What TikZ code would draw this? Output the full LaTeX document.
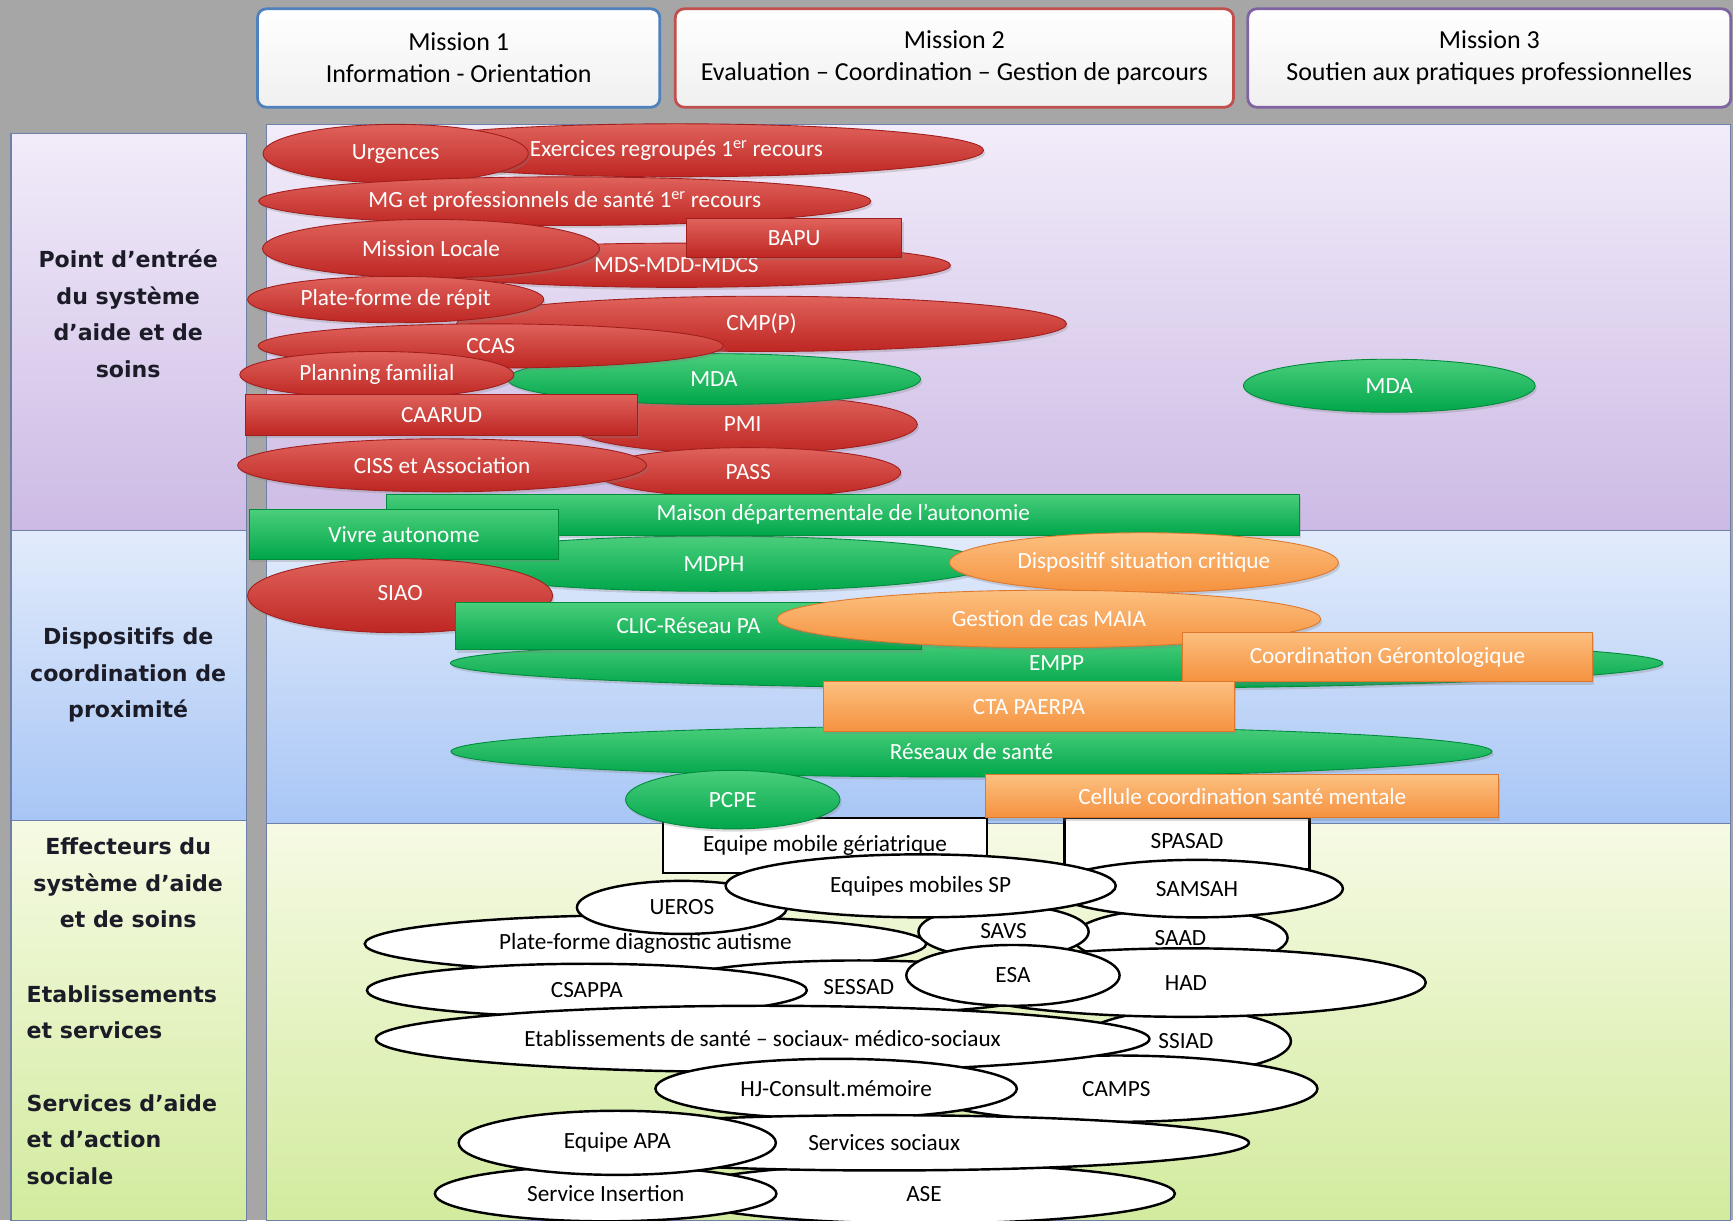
\documentclass[tikz,border=0pt]{standalone}
\usepackage{fontspec}
\setmainfont{Carlito}
\newfontfamily\headfont{DejaVu Sans}
\usetikzlibrary{shapes.geometric,shadows}
\definecolor{bggray}{RGB}{166,166,166}
\definecolor{redT}{RGB}{224,98,92}
\definecolor{redB}{RGB}{190,38,34}
\definecolor{redD}{RGB}{160,30,28}
\definecolor{grnT}{RGB}{74,206,124}
\definecolor{grnB}{RGB}{0,166,74}
\definecolor{grnD}{RGB}{0,138,60}
\definecolor{orgT}{RGB}{252,192,128}
\definecolor{orgB}{RGB}{245,145,62}
\definecolor{orgD}{RGB}{222,120,44}
\definecolor{lavT}{RGB}{242,236,250}
\definecolor{lavB}{RGB}{204,186,228}
\definecolor{bluT}{RGB}{226,235,251}
\definecolor{bluB}{RGB}{168,198,245}
\definecolor{grsT}{RGB}{246,250,228}
\definecolor{grsB}{RGB}{210,235,158}
\definecolor{frame}{RGB}{110,128,168}
\definecolor{mblue}{RGB}{79,129,189}
\definecolor{mred}{RGB}{192,80,77}
\definecolor{mpurple}{RGB}{128,100,162}
\definecolor{headtxt}{RGB}{28,28,40}
\begin{document}
\begin{tikzpicture}[x=1pt,y=-1pt,
  sz/.style 2 args={minimum width=#1pt, minimum height=#2pt},
  shp/.style={inner sep=0pt, align=center, font=\fontsize{21}{24}\selectfont},
  shd/.style={drop shadow={shadow xshift=1.5pt,shadow yshift=-2.5pt,opacity=0.28}},
  redE/.style={shp, shd, ellipse, draw=redD, line width=0.8pt, top color=redT, bottom color=redB, text=white},
  redR/.style={shp, shd, rectangle, draw=redD, line width=0.8pt, top color=redT, bottom color=redB, text=white},
  grnE/.style={shp, shd, ellipse, draw=grnD, line width=0.8pt, top color=grnT, bottom color=grnB, text=white},
  grnR/.style={shp, shd, rectangle, draw=grnD, line width=0.8pt, top color=grnT, bottom color=grnB, text=white},
  orgE/.style={shp, shd, ellipse, draw=orgD, line width=0.8pt, top color=orgT, bottom color=orgB, text=white},
  orgR/.style={shp, shd, rectangle, draw=orgD, line width=0.8pt, top color=orgT, bottom color=orgB, text=white},
  whtE/.style={shp, ellipse, draw=black, line width=2.2pt, fill=white, text=black},
  whtR/.style={shp, rectangle, draw=black, line width=2.2pt, fill=white, text=black},
  mission/.style={rounded corners=8pt, line width=2.5pt, top color=white, bottom color=gray!12, align=center, inner sep=0pt, font=\fontsize{23.5}{29}\selectfont, text=black},
  lefthead/.style={align=center, inner sep=0pt, text=headtxt, font=\headfont\bfseries\fontsize{20}{33}\selectfont},
  leftsub/.style={lefthead, align=left, anchor=west}
]
\useasboundingbox (0,0) rectangle (1568,1104);
\fill[bggray] (0,0) rectangle (1568,1104);

% headers
\node[mission, draw=mblue, sz={364}{89}] (m1) at (415,52.5) {Mission 1\\Information - Orientation};
\node[mission, draw=mred, sz={505}{89}] (m2) at (863.5,52.5) {Mission 2\\Evaluation -- Coordination -- Gestion de parcours};
\node[mission, draw=mpurple, sz={437}{89}] (m3) at (1347.5,52.5) {Mission 3\\Soutien aux pratiques professionnelles};

% left column
\draw[frame, line width=1pt, top color=lavT, bottom color=lavB] (10,121) rectangle (223,480);
\draw[frame, line width=1pt, top color=bluT, bottom color=bluB] (10,480) rectangle (223,742);
\draw[frame, line width=1pt, top color=grsT, bottom color=grsB] (10,742) rectangle (223,1104);
% main area
\draw[frame, line width=1pt, top color=lavT, bottom color=lavB] (241,113) rectangle (1566,480);
\draw[frame, line width=1pt, top color=bluT, bottom color=bluB] (241,480) rectangle (1566,745);
\draw[frame, line width=1pt, top color=grsT, bottom color=grsB] (241,745) rectangle (1566,1104);

\node[lefthead] (l1) at (116,284) {Point d’entrée\\du système\\d’aide et de\\soins};
\node[lefthead] (l2) at (116,611) {Dispositifs de\\coordination de\\proximité};
\node[lefthead] (l3) at (116,799) {Effecteurs du\\système d’aide\\et de soins};
\node[leftsub] (l4) at (24,916) {Etablissements\\et services};
\node[leftsub] (l5) at (24,1031) {Services d’aide\\et d’action\\sociale};

% row 3 : effecteurs
\node[whtR, sz={293}{50}] (emg) at (746.5,765) {Equipe mobile gériatrique};
\node[whtR, sz={222}{46}] (spasad) at (1074,763) {\raisebox{4pt}{SPASAD}};
\node[whtE, sz={194}{53}] (saad) at (1068,848.5) {SAAD};
\node[whtE, sz={264}{52}] (samsah) at (1083,804) {SAMSAH};
\node[whtE, sz={508}{52}] (pfd) at (584,854) {Plate-forme diagnostic autisme};
\node[whtE, sz={190}{48}] (ueros) at (617,821) {UEROS};
\node[whtE, sz={154}{48}] (savs) at (908,843) {\raisebox{2pt}{SAVS}};
\node[whtE, sz={353}{57}] (sp) at (833,801.5) {Equipes mobiles SP};
\node[whtE, sz={360}{48}] (sessad) at (777,893) {SESSAD};
\node[whtE, sz={398}{48}] (csappa) at (531,896) {\raisebox{-5pt}{CSAPPA}};
\node[whtE, sz={190}{56}] (ssiad) at (1073,942) {SSIAD};
\node[whtE, sz={434}{62}] (had) at (1073,889) {HAD};
\node[whtE, sz={193}{55}] (esa) at (916.5,882.5) {ESA};
\node[whtE, sz={364}{60}] (camps) at (1010,985) {CAMPS};
\node[whtE, sz={700}{60}] (etab) at (690,940) {Etablissements de santé -- sociaux- médico-sociaux};
\node[whtE, sz={327}{54}] (hj) at (756.5,985) {HJ-Consult.mémoire};
\node[whtE, sz={454}{54}] (ase) at (836,1080) {ASE};
\node[whtE, sz={660}{50}] (ss) at (800,1034) {Services sociaux};
\node[whtE, sz={309}{50}] (si) at (548,1080) {Service Insertion};
\node[whtE, sz={287}{58}] (apa) at (558.5,1034) {Equipe APA};

% row 1 : points d'entree
\node[redE, sz={556}{48}] (ex) at (612,136) {Exercices regroupés 1\textsuperscript{er} recours};
\node[redE, sz={240}{53}] (urg) at (358,139) {Urgences};
\node[redE, sz={554}{44}] (mg) at (511,182) {MG et professionnels de santé 1\textsuperscript{er} recours};
\node[redE, sz={496}{40}] (mds) at (612,240) {MDS-MDD-MDCS};
\node[redR, sz={195}{35}] (bapu) at (718.5,215.5) {BAPU};
\node[redE, sz={305}{53}] (ml) at (390,225) {Mission Locale};
\node[redE, sz={552}{50}] (cmp) at (689,293) {CMP(P)};
\node[redE, sz={268}{42}] (pfr) at (358,271) {Plate-forme de répit};
\node[redE, sz={316}{53}] (pmi) at (672,384) {PMI};
\node[grnE, sz={374}{46}] (mdaA) at (646,343) {MDA};
\node[redE, sz={421}{40}] (ccas) at (444,313) {CCAS};
\node[redE, sz={248}{42}] (pf) at (341,339) {Planning familial};
\node[redR, sz={355}{37}] (caarud) at (399.5,375.5) {CAARUD};
\node[redE, sz={276}{45}] (pass) at (677,427.5) {PASS};
\node[redE, sz={370}{48}] (ciss) at (400,421) {CISS et Association};
\node[grnE, sz={264}{48}] (mdaB) at (1257,349) {MDA};

% row 2 : coordination
\node[grnE, sz={500}{50}] (mdph) at (646,510) {MDPH};
\node[grnR, sz={826}{37}] (maison) at (763,465.5) {Maison départementale de l’autonomie};
\node[grnR, sz={279}{45}] (vivre) at (365.5,483.5) {Vivre autonome};
\node[orgE, sz={352}{54}] (dsc) at (1035,509) {Dispositif situation critique};
\node[redE, sz={276}{67}] (siao) at (362,539) {\raisebox{5pt}{SIAO}};
\node[grnE, sz={1097}{46}] (empp) at (956,600) {EMPP};
\node[grnR, sz={422}{43}] (clic) at (623,566.5) {CLIC-Réseau PA};
\node[orgE, sz={492}{52}] (gcm) at (949,560) {Gestion de cas MAIA};
\node[orgR, sz={371}{45}] (coord) at (1255.5,594.5) {Coordination Gérontologique};
\node[grnE, sz={942}{46}] (res) at (879,680) {Réseaux de santé};
\node[orgR, sz={372}{45}] (cta) at (931,639.5) {CTA PAERPA};
\node[grnE, sz={194}{53}] (pcpe) at (663,723.5) {PCPE};
\node[orgR, sz={464}{39}] (cell) at (1124,720.5) {Cellule coordination santé mentale};
\end{tikzpicture}
\end{document}
